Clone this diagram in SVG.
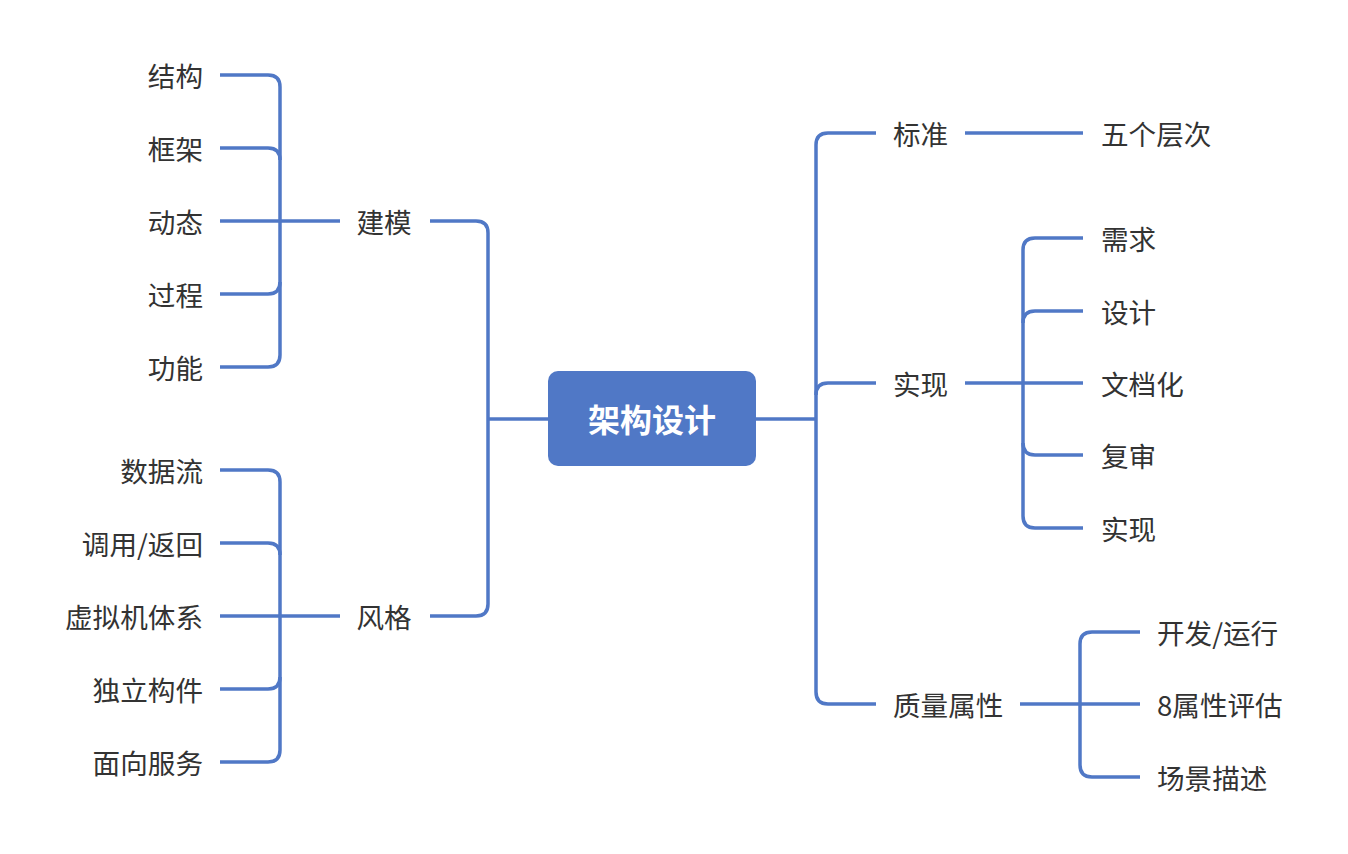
<svg xmlns="http://www.w3.org/2000/svg" width="1348" height="854" viewBox="0 0 1348 854">
<style>
.c{fill:none;stroke:#5078c6;stroke-width:3.5;stroke-linecap:butt}
.t{font-family:"Noto Sans CJK SC","Noto Sans",sans-serif;font-size:27.6px;fill:#333333}
.r{text-anchor:end}
.m{text-anchor:middle}
.root{font-family:"Noto Sans CJK SC","Noto Sans",sans-serif;font-size:32px;font-weight:bold;fill:#ffffff;text-anchor:middle}
</style>
<rect width="1348" height="854" fill="#ffffff"/>
<g id="connectors">
<path class="c" d="M548,419 H488"/>
<path class="c" d="M430,221 H476 Q488,221 488,233 V604 Q488,616 476,616 H430"/>
<path class="c" d="M756,419 H816"/>
<path class="c" d="M876,133 H828 Q816,133 816,145 V692 Q816,704 828,704 H876"/>
<path class="c" d="M816,395 Q816,383 828,383 H876"/>
<path class="c" d="M220,75 H268 Q280,75 280,87 V355 Q280,367 268,367 H220"/>
<path class="c" d="M220,148 H268 Q280,148 280,160"/>
<path class="c" d="M220,294 H268 Q280,294 280,282"/>
<path class="c" d="M220,221 H340"/>
<path class="c" d="M220,470 H268 Q280,470 280,482 V750 Q280,762 268,762 H220"/>
<path class="c" d="M220,543 H268 Q280,543 280,555"/>
<path class="c" d="M220,689 H268 Q280,689 280,677"/>
<path class="c" d="M220,616 H340"/>
<path class="c" d="M965,133 H1083"/>
<path class="c" d="M1083,238 H1035 Q1023,238 1023,250 V516 Q1023,528 1035,528 H1083"/>
<path class="c" d="M1083,311 H1035 Q1023,311 1023,323"/>
<path class="c" d="M1083,455 H1035 Q1023,455 1023,443"/>
<path class="c" d="M965,383 H1083"/>
<path class="c" d="M1140,632 H1092 Q1080,632 1080,644 V765 Q1080,777 1092,777 H1140"/>
<path class="c" d="M1020,704 H1140"/>
</g>
<g id="root">
<rect x="548" y="371" width="208" height="95" rx="10" fill="#5078c6"/>
<text class="root" x="652" y="432">架构设计</text>
</g>
<g id="n-jianmo"><text class="t m" x="384" y="233">建模</text></g>
<g id="n-fengge"><text class="t m" x="384" y="628">风格</text></g>
<g id="n-jiegou"><text class="t r" x="203" y="87">结构</text></g>
<g id="n-kuangjia"><text class="t r" x="203" y="160">框架</text></g>
<g id="n-dongtai"><text class="t r" x="203" y="233">动态</text></g>
<g id="n-guocheng"><text class="t r" x="203" y="306">过程</text></g>
<g id="n-gongneng"><text class="t r" x="203" y="379">功能</text></g>
<g id="n-shujuliu"><text class="t r" x="203" y="482">数据流</text></g>
<g id="n-diaoyong"><text class="t r" x="203" y="555">调用/返回</text></g>
<g id="n-xuniji"><text class="t r" x="203" y="628">虚拟机体系</text></g>
<g id="n-duli"><text class="t r" x="203" y="701">独立构件</text></g>
<g id="n-mianxiang"><text class="t r" x="203" y="774">面向服务</text></g>
<g id="n-biaozhun"><text class="t" x="893" y="145">标准</text></g>
<g id="n-shixian"><text class="t" x="893" y="395">实现</text></g>
<g id="n-zhiliang"><text class="t" x="893" y="716">质量属性</text></g>
<g id="n-wuge"><text class="t" x="1101" y="145">五个层次</text></g>
<g id="n-xuqiu"><text class="t" x="1101" y="250">需求</text></g>
<g id="n-sheji"><text class="t" x="1101" y="323">设计</text></g>
<g id="n-wendang"><text class="t" x="1101" y="395">文档化</text></g>
<g id="n-fushen"><text class="t" x="1101" y="467">复审</text></g>
<g id="n-shixian2"><text class="t" x="1101" y="540">实现</text></g>
<g id="n-kaifa"><text class="t" x="1157" y="644">开发/运行</text></g>
<g id="n-ba"><text class="t" x="1157" y="716">8属性评估</text></g>
<g id="n-changjing"><text class="t" x="1157" y="789">场景描述</text></g>
</svg>
